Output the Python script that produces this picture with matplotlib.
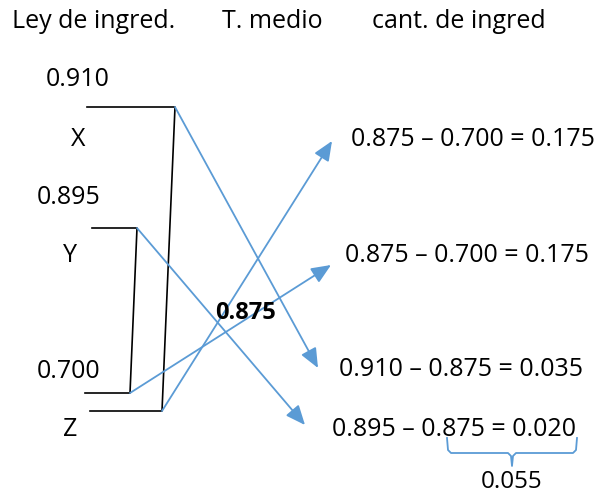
import matplotlib.pyplot as plt

# datos del diagrama
cabeceras = ['Ley de ingred.', 'T. medio', 'cant. de ingred']
leyes = [0.910, 0.895, 0.700]
nombres = ['X', 'Y', 'Z']
medio = 0.875
# restas: (a, b) -> a - b
restas = [(0.875, 0.700), (0.875, 0.700), (0.910, 0.875), (0.895, 0.875)]
suma = 0.055

azul = '#5b9bd5'
fuente = 'Open Sans'
tam = 18

fig = plt.figure(figsize=(6.01, 4.97), dpi=100)
ax = fig.add_axes([0, 0, 1, 1])
ax.set_xlim(0, 601)
ax.set_ylim(497, 0)
ax.axis('off')

# cabeceras
for txt, x in zip(cabeceras, [94, 272, 459]):
    ax.text(x, 22, txt, ha='center', va='center', fontsize=tam, family=fuente)

# leyes y nombres
for v, x, y in zip(leyes, [78, 69, 69], [80, 197, 372]):
    ax.text(x, y, '%.3f' % v, ha='center', va='center', fontsize=tam, family=fuente)
for n, x, y in zip(nombres, [78, 70, 70], [140, 256, 430]):
    ax.text(x, y, n, ha='center', va='center', fontsize=tam, family=fuente)

# corchetes negros
ax.plot([87, 175, 162, 90], [107, 107, 411, 411], color='black', lw=1.2)
ax.plot([92, 137, 130, 85], [228, 228, 393, 393], color='black', lw=1.2)

# flechas azules
flechas = [((175, 107), (318, 368)),
           ((137, 228), (305, 425)),
           ((130, 393), (331, 265)),
           ((162, 411), (332, 141))]
for (x0, y0), (x1, y1) in flechas:
    ax.annotate('', xy=(x1, y1), xytext=(x0, y0),
                arrowprops=dict(arrowstyle='-|>,head_length=0.7,head_width=0.3',
                                color=azul, lw=1.3,
                                mutation_scale=17, shrinkA=0, shrinkB=0))

# valor medio
ax.text(245, 313, '%.3f' % medio, ha='center', va='center', fontsize=17,
        fontweight='bold', family=fuente)

# restas
pos = [(473, 140), (467, 255), (461, 370), (454, 430)]
for (a, b), (x, y) in zip(restas, pos):
    ax.text(x, y, '%.3f \u2013 %.3f = %.3f' % (a, b, a - b), ha='center', va='center',
            fontsize=tam, family=fuente)

# llave y suma
ax.plot([447, 448, 451, 508, 511, 512, 513, 516, 573, 576, 577],
        [438, 450, 453, 453, 456, 466, 456, 453, 453, 450, 438],
        color=azul, lw=1.3)
ax.text(512, 482, '%.3f' % suma, ha='center', va='center', fontsize=17.5, family=fuente)

fig.savefig('out.png', dpi=100)
